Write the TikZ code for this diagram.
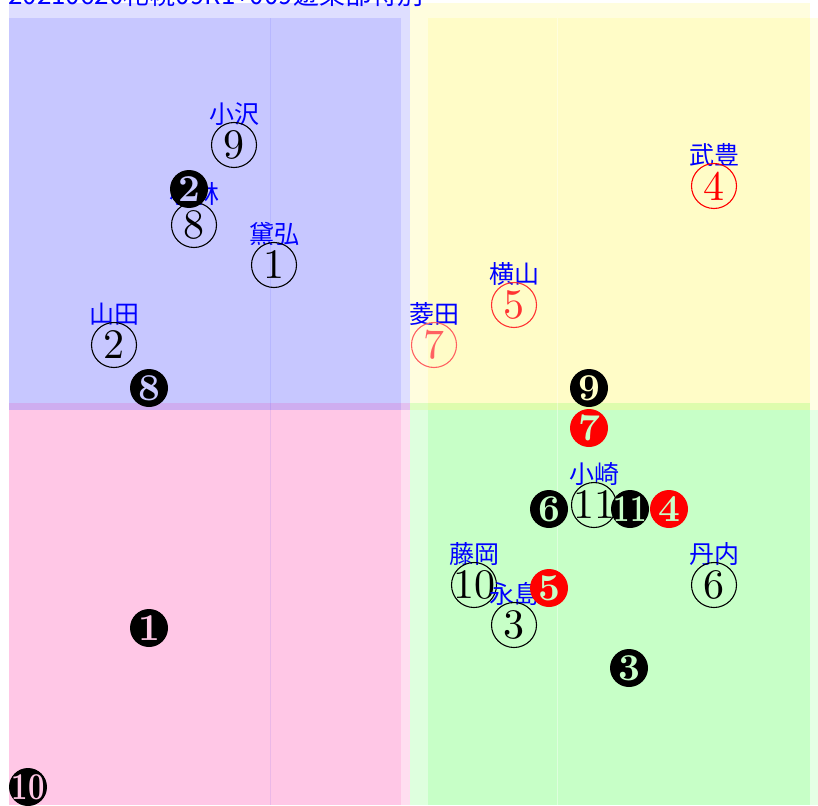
\documentclass[tikz,border=0pt]{standalone}
\usepackage{fontspec}
\newfontfamily\jpfont{Noto Sans CJK JP}
\definecolor{pinkbase}{RGB}{255,0,140}
\definecolor{bgblue}{RGB}{200,200,255}
\definecolor{bgyellow}{RGB}{255,255,200}
\definecolor{bggreen}{RGB}{200,255,200}
\definecolor{bgpink}{RGB}{255,200,230}
\newcommand{\cn}[1]{\makebox[0pt]{\scalebox{4.2}{#1}}}
\newcommand{\cb}[1]{\makebox[0pt]{\scalebox{3.8}{#1}}}
\newcommand{\tight}[1]{\scalebox{0.75}[1]{#1}}
\usetikzlibrary{positioning}

\begin{document}
\begin{tikzpicture}[x=1pt, y=-1pt,
  outer/.style={fill opacity=0.13},
  inner/.style={fill opacity=0.1},
  jockey/.style={circle, draw, line width=1.1pt, minimum size=45pt, inner sep=0pt, font=\normalsize},
  finish/.style={circle, fill=black, minimum size=38pt, inner sep=0pt, font=\normalsize\bfseries},
  rider/.style={text=blue, inner sep=0pt, font=\jpfont\fontsize{25}{25}\selectfont}]
  \useasboundingbox (0,0) rectangle (818,805);
  % four zones
  \fill[blue, outer] (9,3) rectangle (410,410);
  \fill[blue, inner] (9,18) rectangle (401,410);
  \fill[yellow, outer] (410,3) rectangle (810,410);
  \fill[yellow, inner] (428,18) rectangle (818,410);
  \fill[pinkbase, outer] (9,403) rectangle (410,805);
  \fill[pinkbase, inner] (9,410) rectangle (401,805);
  \fill[green, outer] (410,403) rectangle (810,805);
  \fill[green, inner] (428,410) rectangle (818,805);
  \draw[blue, opacity=0.08, line width=0.8pt] (270,18) -- (270,805);
  \draw[white, opacity=0.4, line width=0.8pt] (557,18) -- (557,805);
  \node[anchor=base west, text=blue, inner sep=0pt, font=\jpfont\fontsize{26}{26}\selectfont] (title) at (8,5) {20210620札幌09R1+009遊楽部特別};
  % jockeys
  \foreach \x/\y/\n/\who/\col in {234/145/9/小沢/black, 194/225/8/小林/black, 274/265/1/黛弘/black,
      114/345/2/山田/black, 434/345/7/菱田/red!62, 514/305/5/横山/red!80, 714/186/4/武豊/red,
      594/505/11/小崎/black, 474/585/10/藤岡/black, 514/625/3/永島/black, 714/585/6/丹内/black} {
    \node[rider] (w\n) at (\x,\y-31) {\who};
    \node[jockey, draw=\col, text=\col] (j\n) at (\x,\y) {\cn{\n}};
  }
  % finishing order
  \foreach \x/\y/\n/\txt/\fc/\bg in {149/388/p8/8/black/bgblue, 189/189/p2/2/black/bgblue,
      149/628/p1/1/black/bgpink, 28/787/p10/\tight{10}/black/bgpink,
      589/388/p9/9/black/bgyellow, 589/428/p7/7/red/bggreen, 549/509/p6/6/black/bggreen,
      630/509/p11/\tight{11}/black/bggreen, 669/509/p4/4/red/bggreen, 549/588/p5/5/red/bggreen,
      629/668/p3/3/black/bggreen} {
    \node[finish, fill=\fc, text=\bg] (\n) at (\x,\y) {\cb{\txt}};
  }
\end{tikzpicture}
\end{document}
